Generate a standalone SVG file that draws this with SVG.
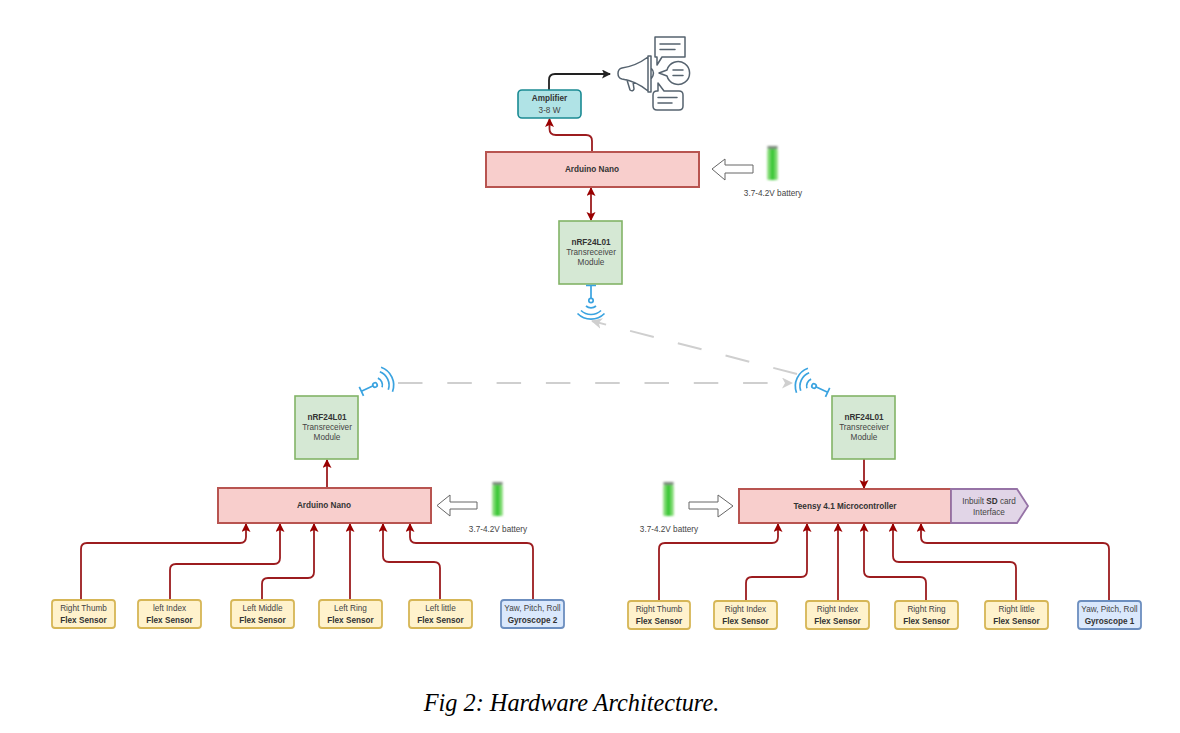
<svg xmlns="http://www.w3.org/2000/svg" width="1180" height="733" viewBox="0 0 1180 733">
<style>
text{font-family:"Liberation Sans",Arial,sans-serif;font-size:8.2px;fill:#444;text-anchor:middle}
.b{font-weight:bold;fill:#333}
.red{fill:#f8cecc;stroke:#b85450;stroke-width:2}
.grn{fill:#d5e8d4;stroke:#82b366;stroke-width:1.6}
.yel{fill:#fff2cc;stroke:#d6b656;stroke-width:1.8}
.blu{fill:#dae8fc;stroke:#6c8ebf;stroke-width:1.8}
.c{fill:none;stroke:#9c1c1f;stroke-width:1.8;marker-end:url(#ar)}
.g{fill:none;stroke:#cfcfcf;stroke-width:2;stroke-dasharray:24.5 24.8;marker-end:url(#ag)}
.big{fill:#fff;stroke:#666;stroke-width:1}
.ic{fill:none;stroke:#56636f;stroke-width:1.5;stroke-linejoin:round;stroke-linecap:round}
.w{fill:none;stroke:#3aa3e0;stroke-width:1.7}
</style>
<defs>
<marker id="ar" markerUnits="userSpaceOnUse" markerWidth="10" markerHeight="10" refX="8" refY="4.5" orient="auto"><path d="M0 0L9 4.5L0 9L2 4.5Z" fill="#990000"/></marker>
<marker id="ars" markerUnits="userSpaceOnUse" markerWidth="10" markerHeight="10" refX="8" refY="4.5" orient="auto-start-reverse"><path d="M0 0L9 4.5L0 9L2 4.5Z" fill="#990000"/></marker>
<marker id="ak" markerUnits="userSpaceOnUse" markerWidth="10" markerHeight="10" refX="8" refY="4.5" orient="auto"><path d="M0 0L9 4.5L0 9L2 4.5Z" fill="#222"/></marker>
<marker id="ag" markerUnits="userSpaceOnUse" markerWidth="12" markerHeight="12" refX="10" refY="5.5" orient="auto"><path d="M0 0L11 5.5L0 11L3 5.5Z" fill="#cfcfcf"/></marker>
<linearGradient id="bat" x1="0" x2="1" y1="0" y2="0"><stop offset="0" stop-color="#a8e69a"/><stop offset=".5" stop-color="#2fc42b"/><stop offset="1" stop-color="#a8e69a"/></linearGradient>
<filter id="bl" x="-30%" y="-10%" width="160%" height="120%"><feGaussianBlur stdDeviation="0.8"/></filter>
<g id="wifi" class="w"><path d="M-5 -15H5M0 -15V-2"/><circle r="2.2" fill="#fff"/><path d="M-5 5.5A7.5 7.5 0 0 0 5 5.5M-10 10A14.5 14.5 0 0 0 10 10M-13.5 13A19 19 0 0 0 13.5 13"/></g>
<g id="battery" filter="url(#bl)"><rect x="0" y="3" width="11" height="31" rx="1.5" fill="url(#bat)"/><rect x="0.5" y="0" width="10" height="3" fill="#7d8a7d"/></g>
</defs>
<rect width="1180" height="733" fill="#fff"/>

<g id="connectors">
<path class="c" d="M592 152V141Q592 135 586 135H556Q549.500 135 549.500 129V119"/>
<path d="M549 90V80Q549 74 555 74H610" fill="none" stroke="#222" stroke-width="1.800" marker-end="url(#ak)"/>
<path d="M591 188V220" fill="none" stroke="#9c1c1f" stroke-width="1.800" marker-start="url(#ars)" marker-end="url(#ars)"/>
<path class="c" d="M327 488V460"/>
<path class="c" d="M864 459V488"/>
<path class="c" d="M81 600V549Q81 543 87 543H240Q246 543 246 537V524"/>
<path class="c" d="M170 600V570Q170 564 176 564H274Q280 564 280 558V524"/>
<path class="c" d="M262 600V584Q262 578 268 578H308Q314 578 314 572V524"/>
<path class="c" d="M350 600V524"/>
<path class="c" d="M440 600V568Q440 562 434 562H389Q383 562 383 556V524"/>
<path class="c" d="M533 600V549Q533 543 527 543H416Q410 543 410 537V524"/>
<path class="c" d="M659 601V549Q659 543 665 543H772Q778 543 778 537V524"/>
<path class="c" d="M746 601V583Q746 577 752 577H801Q807 577 807 571V524"/>
<path class="c" d="M838 601V524"/>
<path class="c" d="M926 601V583Q926 577 920 577H870Q864 577 864 571V524"/>
<path class="c" d="M1016 601V568Q1016 562 1010 562H899Q893 562 893 556V524"/>
<path class="c" d="M1109 601V549Q1109 543 1103 543H927Q921 543 921 537V524"/>
<path class="g" d="M398 383H792"/>
<path class="g" d="M797 374L592 321"/>
</g>

<g id="amplifier"><rect x="518" y="90" width="63" height="28" rx="4" fill="#b0e3e6" stroke="#1a8a93" stroke-width="1.600"/><text class="b" x="549.500" y="100.500">Amplifier</text><text x="549.500" y="113">3-8 W</text></g>
<g id="speaker" class="ic">
<path d="M622 68Q636 66 648 57V91Q636 81 622 79Q618 78 618 73.500Q618 69 622 68ZM648 56H651V92H648ZM651 68Q656 73 651 79M627 80L630 90Q633 92 634 89L633 82"/>
<path d="M655 37H685V57H662L657 65V57H655Z"/><path d="M660 44H680M660 49.500H675"/>
<path d="M659 73L667 70A11.500 11.500 0 1 1 667 76Z"/><path d="M673 70H683M673 75.500H683"/>
<path d="M658 83L664 91H679Q683 91 683 95V106Q683 110 679 110H657Q653 110 653 106V95Q653 91 657 91H658Z"/><path d="M658 97.500H677M658 103H672"/>
</g>
<g id="arduino-top"><rect class="red" x="486" y="152" width="213" height="35"/><text class="b" x="592" y="172">Arduino Nano</text></g>
<g id="battery-top"><use href="#battery" x="767" y="146"/><path class="big" d="M712 169L725 159V165H753V173H725V180Z"/><text x="773" y="196">3.7-4.2V battery</text></g>
<g id="nrf-top"><rect class="grn" x="559" y="221" width="63" height="63"/><text class="b" x="591" y="245">nRF24L01</text><text x="591" y="255">Transreceiver</text><text x="591" y="265">Module</text></g>
<use id="wifi-top" href="#wifi" transform="translate(591 300.500)"/>
<use id="wifi-left" href="#wifi" transform="translate(375 385) rotate(-115)"/>
<use id="wifi-right" href="#wifi" transform="translate(814 386) rotate(115)"/>

<g id="nrf-left"><rect class="grn" x="295" y="396" width="63" height="63"/><text class="b" x="327" y="420">nRF24L01</text><text x="327" y="430">Transreceiver</text><text x="327" y="440">Module</text></g>
<g id="nrf-right"><rect class="grn" x="832" y="396" width="63" height="63"/><text class="b" x="864" y="420">nRF24L01</text><text x="864" y="430">Transreceiver</text><text x="864" y="440">Module</text></g>
<g id="arduino-left"><rect class="red" x="218" y="488" width="213" height="35"/><text class="b" x="324" y="508">Arduino Nano</text></g>
<g id="battery-left"><use href="#battery" x="492" y="482"/><path class="big" d="M437 505.500L450 495V502H477V509H450V516Z"/><text x="498" y="532">3.7-4.2V battery</text></g>
<g id="teensy"><rect class="red" x="739" y="489" width="212" height="34"/><text class="b" x="845" y="509">Teensy 4.1 Microcontroller</text></g>
<g id="sdcard"><path d="M951 489H1017L1028 506L1017 523H951Z" fill="#e1d5e7" stroke="#9673a6" stroke-width="1.800"/><text x="989" y="504"><tspan>Inbuilt </tspan><tspan class="b">SD</tspan><tspan> card</tspan></text><text x="989" y="515">Interface</text></g>
<g id="battery-right"><use href="#battery" x="663" y="482"/><path class="big" d="M689 502H718V495L733 506L718 517V509H689Z"/><text x="669" y="532">3.7-4.2V battery</text></g>

<g id="s1"><rect class="yel" x="52" y="600" width="63" height="28" rx="3"/><text x="83.500" y="611">Right Thumb</text><text class="b" x="83.500" y="623">Flex Sensor</text></g>
<g id="s2"><rect class="yel" x="138" y="600" width="63" height="28" rx="3"/><text x="169.500" y="611">left Index</text><text class="b" x="169.500" y="623">Flex Sensor</text></g>
<g id="s3"><rect class="yel" x="231" y="600" width="63" height="28" rx="3"/><text x="262.500" y="611">Left Middle</text><text class="b" x="262.500" y="623">Flex Sensor</text></g>
<g id="s4"><rect class="yel" x="319" y="600" width="63" height="28" rx="3"/><text x="350.500" y="611">Left Ring</text><text class="b" x="350.500" y="623">Flex Sensor</text></g>
<g id="s5"><rect class="yel" x="409" y="600" width="63" height="28" rx="3"/><text x="440.500" y="611">Left little</text><text class="b" x="440.500" y="623">Flex Sensor</text></g>
<g id="s6"><rect class="blu" x="501" y="600" width="63" height="28" rx="3"/><text x="532.500" y="611">Yaw, Pitch, Roll</text><text class="b" x="532.500" y="623">Gyroscope 2</text></g>
<g id="s7"><rect class="yel" x="628" y="601" width="62" height="28" rx="3"/><text x="659" y="612">Right Thumb</text><text class="b" x="659" y="624">Flex Sensor</text></g>
<g id="s8"><rect class="yel" x="714" y="601" width="63" height="28" rx="3"/><text x="745.500" y="612">Right Index</text><text class="b" x="745.500" y="624">Flex Sensor</text></g>
<g id="s9"><rect class="yel" x="806" y="601" width="63" height="28" rx="3"/><text x="837.500" y="612">Right Index</text><text class="b" x="837.500" y="624">Flex Sensor</text></g>
<g id="s10"><rect class="yel" x="895" y="601" width="63" height="28" rx="3"/><text x="926.500" y="612">Right Ring</text><text class="b" x="926.500" y="624">Flex Sensor</text></g>
<g id="s11"><rect class="yel" x="985" y="601" width="63" height="28" rx="3"/><text x="1016.500" y="612">Right little</text><text class="b" x="1016.500" y="624">Flex Sensor</text></g>
<g id="s12"><rect class="blu" x="1078" y="601" width="63" height="28" rx="3"/><text x="1109.500" y="612">Yaw, Pitch, Roll</text><text class="b" x="1109.500" y="624">Gyroscope 1</text></g>

<text id="caption" x="571.500" y="711" style="font-family:'Liberation Serif','Times New Roman',serif;font-style:italic;font-size:24.300px;fill:#000">Fig 2: Hardware Architecture.</text>
</svg>
